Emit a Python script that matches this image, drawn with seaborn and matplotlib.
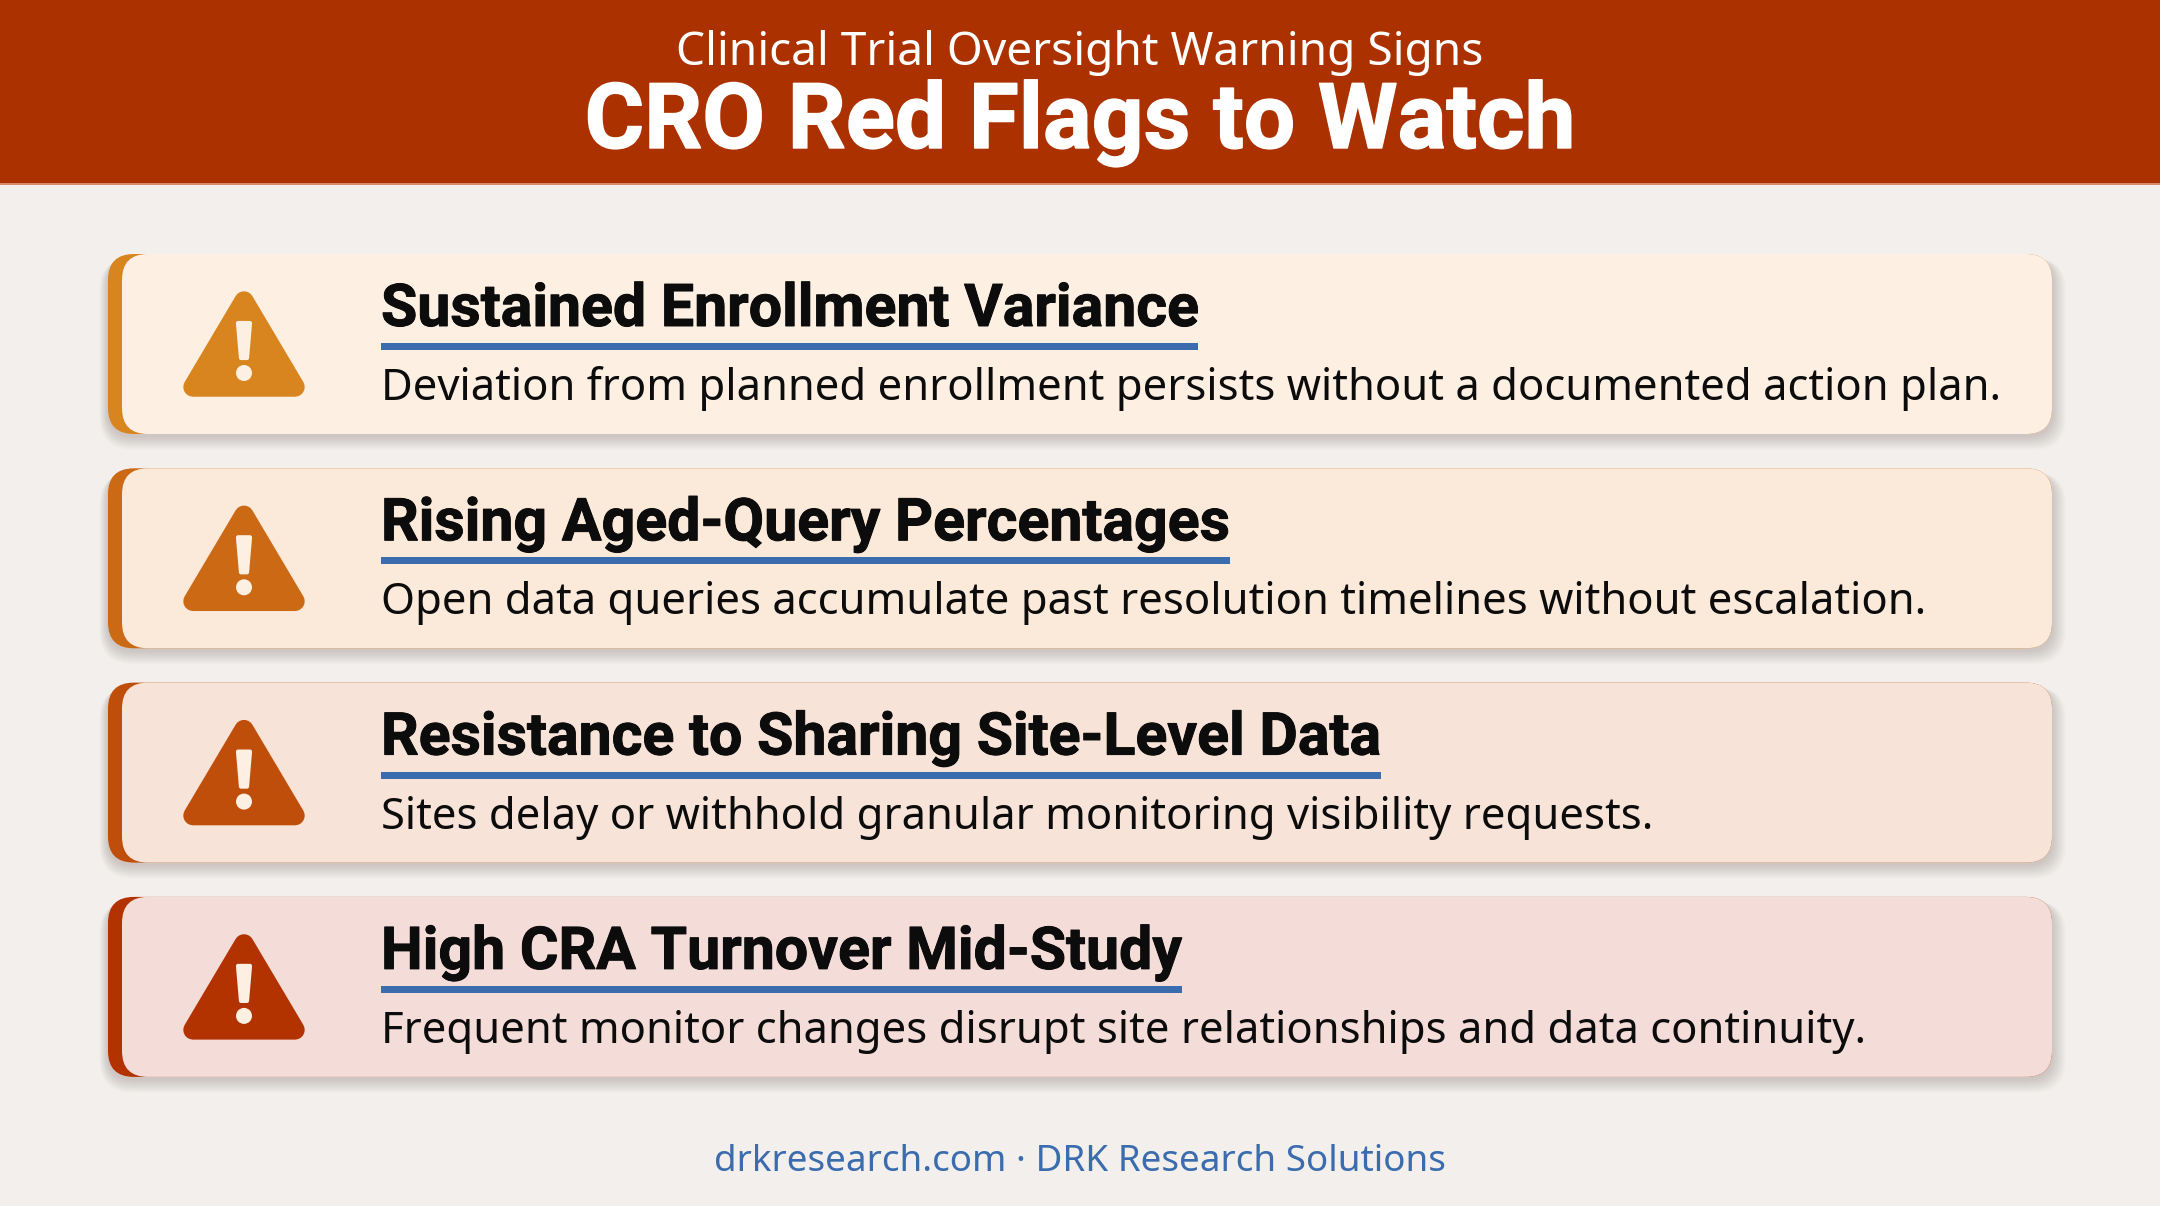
import matplotlib.pyplot as plt
import matplotlib.patheffects as pe
import seaborn as sns
from matplotlib.patches import Circle, FancyBboxPatch, Polygon, Rectangle

# ------------------- content

kicker = "Clinical Trial Oversight Warning Signs"
headline = "CRO Red Flags to Watch"
footer = "drkresearch.com · DRK Research Solutions"

flag_titles = [
    "Sustained Enrollment Variance",
    "Rising Aged-Query Percentages",
    "Resistance to Sharing Site-Level Data",
    "High CRA Turnover Mid-Study",
]
flag_details = [
    "Deviation from planned enrollment persists without a documented action plan.",
    "Open data queries accumulate past resolution timelines without escalation.",
    "Sites delay or withhold granular monitoring visibility requests.",
    "Frequent monitor changes disrupt site relationships and data continuity.",
]

# ------------------- colours

PAGE = "#f3efec"
HEADER = "#ab3100"
BLUE = "#3a6cae"
INK = "#0c0c0c"
card_fills = ["#fdf0e3", "#fbe9da", "#f8e3d8", "#f4dcd8"]
accents = sns.blend_palette(["#d9851f", "#b23200"], 4)

# ------------------- layout, in pixels

W, H = 2160, 1206
CARD_LEFT, CARD_RIGHT = 108, 2052
CARD_TOP, CARD_H, CARD_STEP = 254, 180, 214.3
R = 26

sns.set_theme(style="white")
plt.rcParams["font.family"] = ["Noto Sans", "DejaVu Sans"]

fig, ax = plt.subplots(figsize=(W / 100, H / 100), dpi=100, facecolor=PAGE)
ax.set_position([0, 0, 1, 1])
ax.set_xlim(0, W)
ax.set_ylim(H, 0)
ax.set_facecolor(PAGE)
ax.axis("off")


def rounded(x0, y0, x1, y1, radius, **kw):
    box = FancyBboxPatch(
        (x0 + radius, y0 + radius),
        x1 - x0 - 2 * radius,
        y1 - y0 - 2 * radius,
        boxstyle=f"round,pad={radius},rounding_size={radius}",
        linewidth=0,
        **kw,
    )
    ax.add_patch(box)


def warning_icon(top, colour):
    # outline stroke with round joins gives the soft triangle corners
    pts = [(244, top + 47), (193, top + 133), (295, top + 133)]
    ax.add_patch(Polygon(pts, closed=True, fc=colour, ec=colour, lw=14, joinstyle="round"))
    bang = [(238, top + 69), (250, top + 69), (247, top + 104), (241, top + 104)]
    ax.add_patch(Polygon(bang, closed=True, fc=card_fills[0], ec=card_fills[0], lw=3, joinstyle="round"))
    ax.add_patch(Circle((244, top + 119), 8, fc=card_fills[0], ec="none"))


def heavy(colour, width):
    # thickens Roboto Bold towards the weight of the original headings
    return [pe.withStroke(linewidth=width, foreground=colour)]


# header band
ax.add_patch(Rectangle((0, 0), W, 184, fc=HEADER, ec="none"))
ax.add_patch(Rectangle((0, 183), W, 1.5, fc="#d98a68", ec="none"))
ax.text(W / 2, 65, kicker, color="white", fontsize=33.2, ha="center", va="baseline")
ax.text(
    W / 2, 148, headline, color="white", fontsize=65.5, family="Roboto", weight="bold",
    ha="center", va="baseline", path_effects=heavy("white", 1.0),
)

for i, (title, detail) in enumerate(zip(flag_titles, flag_details)):
    top = CARD_TOP + i * CARD_STEP
    bottom = top + CARD_H

    # soft drop shadow
    for grow in range(1, 15):
        rounded(
            CARD_LEFT - grow * 0.6,
            top + 4,
            CARD_RIGHT + grow,
            bottom + 2 + grow,
            R + grow * 0.5,
            fc="#5a4a40",
            alpha=0.014,
        )

    rounded(CARD_LEFT, top, CARD_RIGHT, bottom, R, fc=accents[i])
    rounded(CARD_LEFT + 14, top, CARD_RIGHT, bottom, R, fc=card_fills[i])
    warning_icon(top, accents[i])

    label = ax.text(
        381, top + 72, title, color=INK, fontsize=42.5, family="Roboto", weight="bold",
        va="baseline", path_effects=heavy(INK, 0.7),
    )
    fig.canvas.draw()
    end = label.get_window_extent().x1
    ax.add_patch(Rectangle((381, top + 89), end - 381, 7, fc=BLUE, ec="none"))
    ax.text(381, top + 146, detail, color=INK, fontsize=31.4, va="baseline")

ax.text(W / 2, 1171, footer, color=BLUE, fontsize=26.5, ha="center", va="baseline")

fig.savefig("out.png", dpi=100, facecolor=PAGE)
